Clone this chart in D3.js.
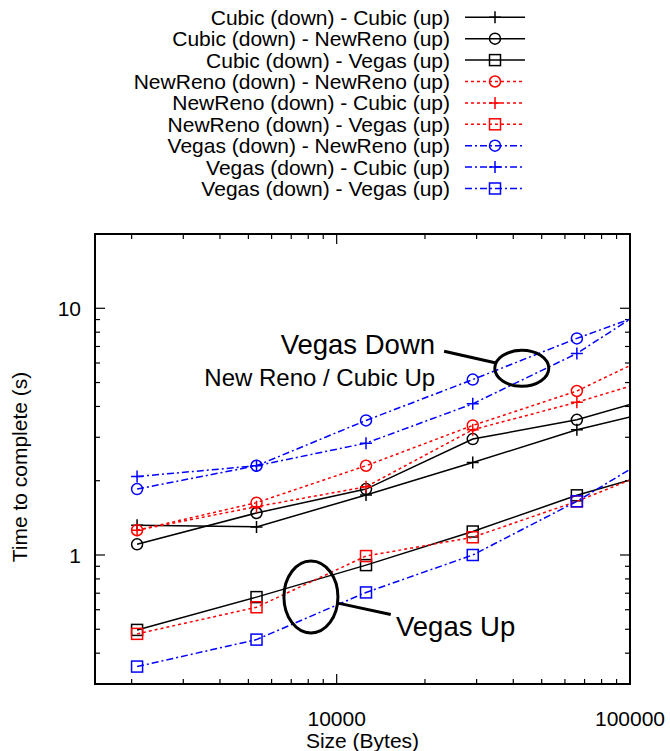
<!DOCTYPE html>
<html>
<head>
<meta charset="utf-8">
<script src="https://cdn.jsdelivr.net/npm/d3@7/dist/d3.min.js"></script>
<style>
  body { margin: 0; background: #fff; }
  text { font-family: "Liberation Sans", Arial, Helvetica, sans-serif; }
</style>
</head>
<body>
<div id="main"></div>
<script>
// transfer sizes (bytes); the last one lies past the right edge and is clipped
var sizes = [2087, 5330, 12590, 29100, 65900, 151000];

var cubicCubic     = [1.32, 1.30, 1.75, 2.37, 3.22, 4.08];
var cubicNewReno   = [1.105, 1.48, 1.85, 2.95, 3.53, 4.69];
var cubicVegas     = [0.497, 0.675, 0.91, 1.245, 1.745, 2.32];
var renoReno       = [1.26, 1.63, 2.30, 3.35, 4.62, 7.41];
var renoCubic      = [1.26, 1.57, 1.89, 3.22, 4.16, 5.60];
var renoVegas      = [0.479, 0.614, 0.99, 1.18, 1.65, 2.45];
var vegasNewReno   = [1.85, 2.30, 3.51, 5.14, 7.55, 10.8];
var vegasCubic     = [2.08, 2.30, 2.84, 4.10, 6.56, 12.4];
var vegasVegas     = [0.353, 0.454, 0.705, 1.0, 1.65, 2.99];

var seriesLabels = [
  'Cubic (down) - Cubic (up)',
  'Cubic (down) - NewReno (up)',
  'Cubic (down) - Vegas (up)',
  'NewReno (down) - NewReno (up)',
  'NewReno (down) - Cubic (up)',
  'NewReno (down) - Vegas (up)',
  'Vegas (down) - NewReno (up)',
  'Vegas (down) - Cubic (up)',
  'Vegas (down) - Vegas (up)'
];
var seriesValues = [cubicCubic, cubicNewReno, cubicVegas, renoReno, renoCubic, renoVegas,
                    vegasNewReno, vegasCubic, vegasVegas];
var seriesMarkers = ['plus', 'circle', 'square', 'circle', 'plus', 'square', 'circle', 'plus', 'square'];

var xTickLabels = [10000, 100000];
var yTickLabels = [1, 10];

// line style per group (down protocol)
var styles = {
  Cubic:   { color: '#000000', dash: null },
  NewReno: { color: '#ff0000', dash: '3,3' },
  Vegas:   { color: '#0000ff', dash: '7,3,2,3' }
};

var width = 670, height = 751;
var margin = { left: 95, right: 40, top: 234, bottom: 67 };

var svg = d3.select('#main').append('svg')
  .attr('width', width)
  .attr('height', height);

var x = d3.scaleLog().domain([1500, 100000]).range([margin.left, width - margin.right]);
var y = d3.scaleLog().domain([0.3, 20]).range([height - margin.bottom, margin.top]);

var x0 = x.range()[0], x1 = x.range()[1], y0 = y.range()[0], y1 = y.range()[1];

svg.append('clipPath').attr('id', 'plotclip')
  .append('rect').attr('x', x0).attr('y', y1).attr('width', x1 - x0).attr('height', y0 - y1);

// minor / major ticks on all four sides
var xMinor = [], yMinor = [];
[1000, 10000].forEach(function(b) {
  for (var k = 2; k <= 9; k++) if (b * k > 1500 && b * k < 100000) xMinor.push(b * k);
});
[0.1, 1, 10].forEach(function(b) {
  for (var k = 2; k <= 9; k++) if (b * k > 0.3 && b * k < 20) yMinor.push(b * k);
});

var ticks = svg.append('g').attr('stroke', '#000').attr('stroke-width', 1.2);
function xt(v, len) {
  ticks.append('line').attr('x1', x(v)).attr('x2', x(v)).attr('y1', y0).attr('y2', y0 - len);
  ticks.append('line').attr('x1', x(v)).attr('x2', x(v)).attr('y1', y1).attr('y2', y1 + len);
}
function yt(v, len) {
  ticks.append('line').attr('x1', x0).attr('x2', x0 + len).attr('y1', y(v)).attr('y2', y(v));
  ticks.append('line').attr('x1', x1).attr('x2', x1 - len).attr('y1', y(v)).attr('y2', y(v));
}
xMinor.forEach(function(v) { xt(v, 5); });
xTickLabels.forEach(function(v) { xt(v, 10); });
yMinor.forEach(function(v) { yt(v, 5); });
yTickLabels.forEach(function(v) { yt(v, 10); });

svg.selectAll('.xlab').data(xTickLabels).enter().append('text')
  .attr('x', function(d) { return x(d); })
  .attr('y', y0 + 42)
  .attr('text-anchor', 'middle')
  .attr('font-size', 21)
  .text(function(d) { return d; });

svg.selectAll('.ylab').data(yTickLabels).enter().append('text')
  .attr('x', x0 - 14)
  .attr('y', function(d) { return y(d) + 8; })
  .attr('text-anchor', 'end')
  .attr('font-size', 21)
  .text(function(d) { return d; });

svg.append('text')
  .attr('x', (x0 + x1) / 2)
  .attr('y', y0 + 64)
  .attr('text-anchor', 'middle')
  .attr('font-size', 21)
  .text('Size (Bytes)');

svg.append('text')
  .attr('transform', 'translate(27,' + ((y0 + y1) / 2 + 8) + ') rotate(-90)')
  .attr('text-anchor', 'middle')
  .attr('font-size', 21)
  .text('Time to complete (s)');

// marker drawing
function drawMarker(g, type, cx, cy, color) {
  if (type === 'plus') {
    g.append('path').attr('d', 'M' + (cx - 6) + ',' + cy + 'H' + (cx + 6) + 'M' + cx + ',' + (cy - 6) + 'V' + (cy + 6))
      .attr('stroke', color).attr('stroke-width', 1.5).attr('fill', 'none');
  } else if (type === 'circle') {
    g.append('circle').attr('cx', cx).attr('cy', cy).attr('r', 5.5)
      .attr('stroke', color).attr('stroke-width', 1.5).attr('fill', 'none');
  } else {
    g.append('rect').attr('x', cx - 5.5).attr('y', cy - 5.5).attr('width', 11).attr('height', 11)
      .attr('stroke', color).attr('stroke-width', 1.5).attr('fill', 'none');
  }
}

var line = d3.line()
  .x(function(d) { return x(d[0]); })
  .y(function(d) { return y(d[1]); });

var plot = svg.append('g').attr('clip-path', 'url(#plotclip)');

seriesValues.forEach(function(vals, i) {
  var st = styles[seriesLabels[i].split(' ')[0]];
  var pts = sizes.map(function(s, j) { return [s, vals[j]]; });
  plot.append('path')
    .attr('d', line(pts))
    .attr('fill', 'none')
    .attr('stroke', st.color)
    .attr('stroke-width', 1.5)
    .attr('stroke-dasharray', st.dash);
  pts.forEach(function(p) {
    if (p[0] <= 100000) drawMarker(plot, seriesMarkers[i], x(p[0]), y(p[1]), st.color);
  });
});

// frame
svg.append('rect')
  .attr('x', x0).attr('y', y1).attr('width', x1 - x0).attr('height', y0 - y1)
  .attr('fill', 'none').attr('stroke', '#000').attr('stroke-width', 2);

// annotations (anchored in data coordinates)
var ann = svg.append('g');
ann.append('ellipse').attr('cx', x(42760)).attr('cy', y(5.71)).attr('rx', 27).attr('ry', 18)
  .attr('fill', 'none').attr('stroke', '#000').attr('stroke-width', 3);
ann.append('line').attr('x1', x(23240)).attr('y1', y(6.70)).attr('x2', x(34670)).attr('y2', y(6.01))
  .attr('stroke', '#000').attr('stroke-width', 3);
ann.append('text').attr('x', x(21650)).attr('y', y(6.5)).attr('text-anchor', 'end')
  .attr('font-size', 27.5).text('Vegas Down');
ann.append('text').attr('x', x(21650)).attr('y', y(4.86)).attr('text-anchor', 'end')
  .attr('font-size', 24).text('New Reno / Cubic Up');

ann.append('ellipse').attr('cx', x(8170)).attr('cy', y(0.676)).attr('rx', 27).attr('ry', 36)
  .attr('fill', 'none').attr('stroke', '#000').attr('stroke-width', 3);
ann.append('line').attr('x1', x(10100)).attr('y1', y(0.638)).attr('x2', x(15290)).attr('y2', y(0.574))
  .attr('stroke', '#000').attr('stroke-width', 3);
ann.append('text').attr('x', x(15930)).attr('y', y(0.471))
  .attr('font-size', 27.5).text('Vegas Up');

// legend
var legend = svg.append('g');
seriesLabels.forEach(function(lab, i) {
  var st = styles[lab.split(' ')[0]];
  var ly = 17.3 + i * 21.4;
  legend.append('text').attr('x', 450).attr('y', ly + 7.5).attr('text-anchor', 'end')
    .attr('font-size', 21).text(lab);
  legend.append('line').attr('x1', 465).attr('x2', 525).attr('y1', ly).attr('y2', ly)
    .attr('stroke', st.color).attr('stroke-width', 1.5).attr('stroke-dasharray', st.dash);
  drawMarker(legend, seriesMarkers[i], 495, ly, st.color);
});
</script>
</body>
</html>
